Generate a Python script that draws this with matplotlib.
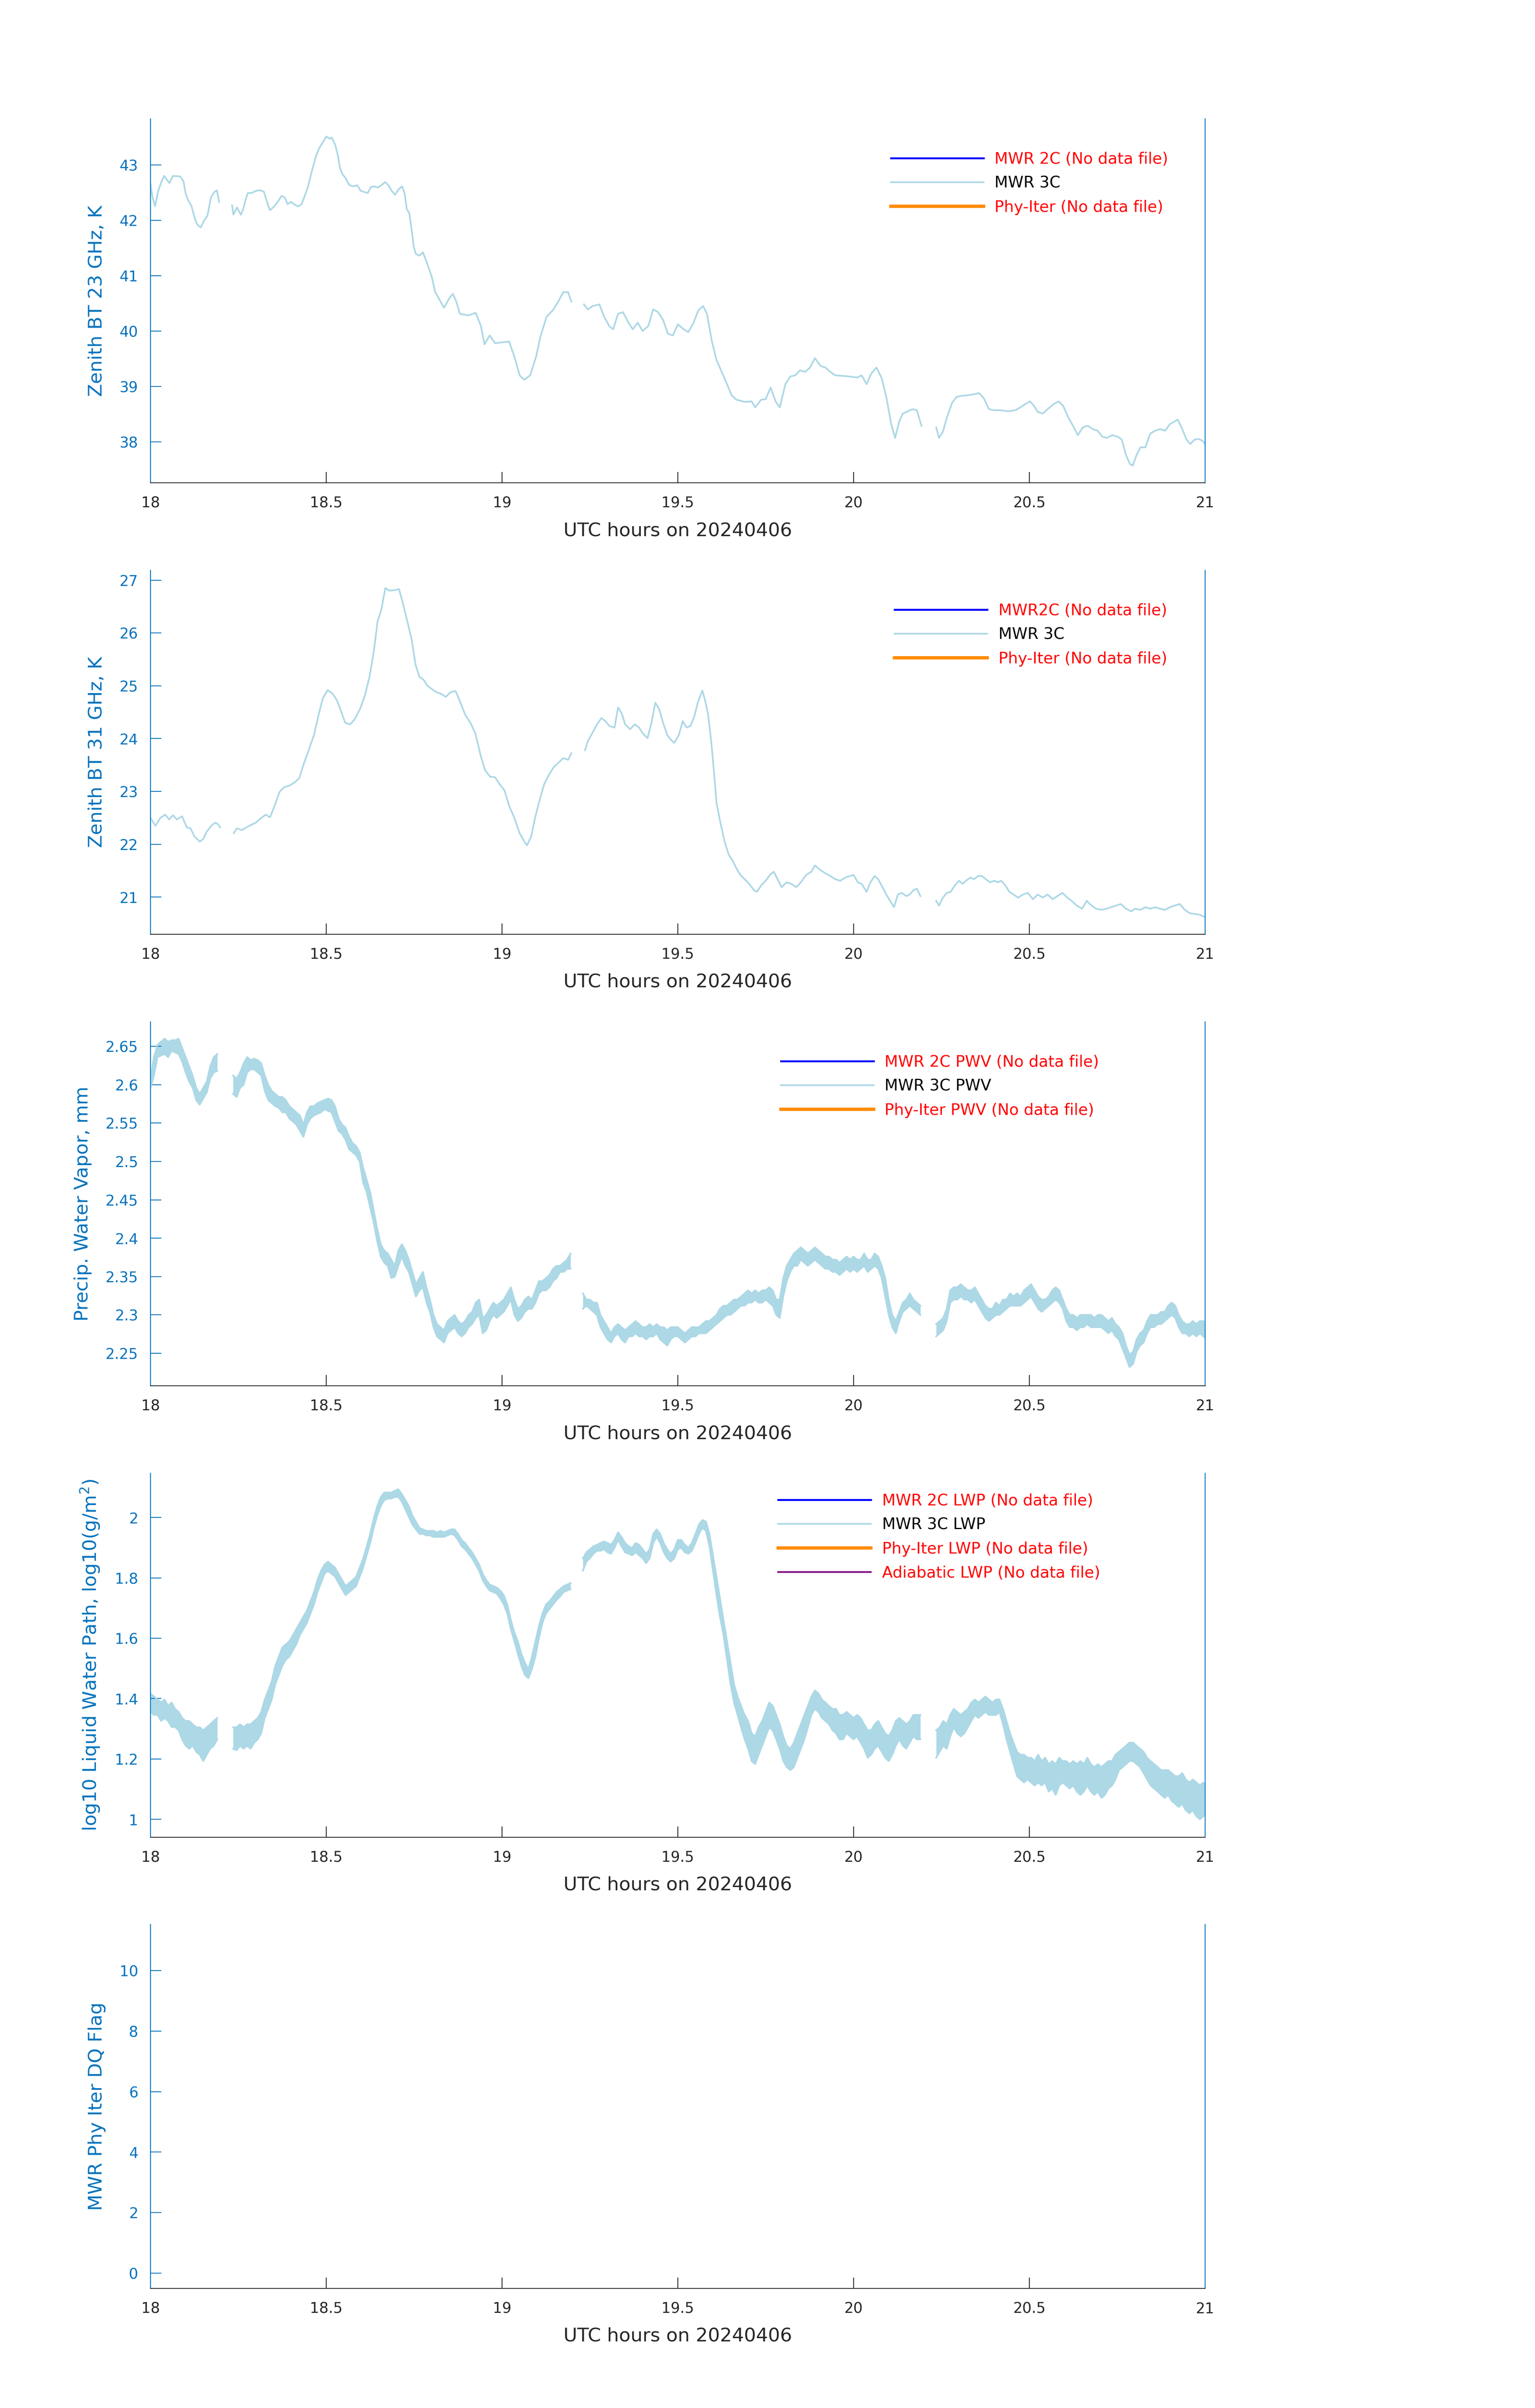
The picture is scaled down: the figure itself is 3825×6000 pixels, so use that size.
import numpy as np
import matplotlib
matplotlib.use('Agg')
import matplotlib.pyplot as plt

# ---------------- data ----------------
XTICKS = [18, 18.5, 19, 19.5, 20, 20.5, 21]
XTICKLABELS = ['18', '18.5', '19', '19.5', '20', '20.5', '21']
XLABEL = 'UTC hours on 20240406'

# Zenith BT 23 GHz, MWR 3C  (hour, K) ; None marks a data gap
bt23_points = [
    (18.000, 42.66), (18.005, 42.43), (18.013, 42.25), (18.022, 42.53), (18.031, 42.69), (18.039, 42.80),
    (18.048, 42.72), (18.054, 42.67), (18.064, 42.80), (18.084, 42.79), (18.094, 42.70), (18.100, 42.48),
    (18.107, 42.36), (18.117, 42.25), (18.126, 42.03), (18.133, 41.92), (18.143, 41.87), (18.153, 42.00),
    (18.162, 42.08), (18.172, 42.41), (18.182, 42.51), (18.189, 42.54), (18.195, 42.33), (18.214, None),
    (18.232, 42.27), (18.236, 42.10), (18.246, 42.23), (18.257, 42.10), (18.264, 42.20), (18.270, 42.36),
    (18.277, 42.49), (18.287, 42.49), (18.300, 42.53), (18.313, 42.54), (18.323, 42.51), (18.329, 42.38),
    (18.336, 42.24), (18.340, 42.18), (18.349, 42.23), (18.356, 42.28), (18.365, 42.36), (18.373, 42.44),
    (18.382, 42.41), (18.390, 42.29), (18.400, 42.33), (18.410, 42.28), (18.420, 42.25), (18.430, 42.29),
    (18.437, 42.41), (18.447, 42.58), (18.454, 42.76), (18.460, 42.91), (18.470, 43.14), (18.480, 43.30),
    (18.490, 43.40), (18.500, 43.51), (18.510, 43.47), (18.516, 43.49), (18.526, 43.35), (18.533, 43.17),
    (18.539, 42.94), (18.546, 42.83), (18.555, 42.76), (18.565, 42.64), (18.575, 42.61), (18.588, 42.63),
    (18.598, 42.53), (18.608, 42.51), (18.618, 42.49), (18.627, 42.60), (18.637, 42.61), (18.647, 42.59),
    (18.657, 42.63), (18.667, 42.69), (18.677, 42.63), (18.686, 42.53), (18.696, 42.46), (18.706, 42.56),
    (18.716, 42.61), (18.723, 42.48), (18.729, 42.20), (18.736, 42.13), (18.742, 41.87), (18.749, 41.52),
    (18.755, 41.39), (18.765, 41.36), (18.775, 41.42), (18.785, 41.25), (18.800, 40.98), (18.810, 40.70),
    (18.820, 40.59), (18.835, 40.42), (18.850, 40.59), (18.860, 40.67), (18.870, 40.53), (18.880, 40.31),
    (18.905, 40.28), (18.925, 40.33), (18.940, 40.09), (18.950, 39.76), (18.965, 39.92), (18.980, 39.78),
    (19.007, 39.80), (19.020, 39.81), (19.035, 39.54), (19.050, 39.20), (19.063, 39.12), (19.080, 39.20),
    (19.097, 39.54), (19.110, 39.92), (19.127, 40.26), (19.144, 40.37), (19.160, 40.53), (19.174, 40.70),
    (19.188, 40.70), (19.197, 40.53), (19.215, None),
    (19.233, 40.48), (19.244, 40.39), (19.258, 40.45), (19.277, 40.48), (19.290, 40.26), (19.305, 40.09),
    (19.316, 40.03), (19.330, 40.31), (19.344, 40.34), (19.358, 40.17), (19.372, 40.03), (19.386, 40.15),
    (19.400, 40.00), (19.416, 40.09), (19.430, 40.39), (19.444, 40.34), (19.458, 40.20), (19.472, 39.95),
    (19.486, 39.92), (19.500, 40.12), (19.517, 40.03), (19.530, 39.98), (19.545, 40.15), (19.558, 40.37),
    (19.572, 40.45), (19.583, 40.31), (19.597, 39.81), (19.610, 39.48), (19.625, 39.26), (19.640, 39.04),
    (19.653, 38.84), (19.667, 38.76), (19.690, 38.72), (19.710, 38.73), (19.720, 38.62), (19.737, 38.76),
    (19.750, 38.77), (19.764, 38.98), (19.778, 38.73), (19.790, 38.62), (19.806, 39.04), (19.820, 39.18),
    (19.834, 39.20), (19.848, 39.29), (19.862, 39.26), (19.876, 39.34), (19.890, 39.51), (19.906, 39.37),
    (19.920, 39.34), (19.934, 39.26), (19.948, 39.20), (19.968, 39.19), (19.987, 39.18), (20.010, 39.16),
    (20.023, 39.20), (20.037, 39.04), (20.050, 39.23), (20.065, 39.34), (20.080, 39.15), (20.093, 38.81),
    (20.107, 38.32), (20.118, 38.07), (20.130, 38.37), (20.140, 38.51), (20.154, 38.55), (20.168, 38.59),
    (20.180, 38.57), (20.193, 38.29), (20.214, None),
    (20.235, 38.26), (20.243, 38.07), (20.254, 38.18), (20.265, 38.43), (20.280, 38.70), (20.293, 38.81),
    (20.307, 38.83), (20.324, 38.84), (20.343, 38.86), (20.357, 38.88), (20.370, 38.79), (20.385, 38.59),
    (20.400, 38.57), (20.418, 38.57), (20.440, 38.55), (20.460, 38.57), (20.474, 38.62), (20.488, 38.68),
    (20.502, 38.73), (20.513, 38.65), (20.524, 38.54), (20.538, 38.51), (20.552, 38.59), (20.569, 38.68),
    (20.583, 38.73), (20.596, 38.65), (20.610, 38.45), (20.624, 38.29), (20.638, 38.12), (20.652, 38.26),
    (20.666, 38.29), (20.680, 38.23), (20.694, 38.20), (20.708, 38.09), (20.720, 38.07), (20.736, 38.12),
    (20.752, 38.09), (20.763, 38.04), (20.775, 37.76), (20.786, 37.60), (20.794, 37.57), (20.805, 37.76),
    (20.816, 37.90), (20.830, 37.90), (20.844, 38.15), (20.858, 38.20), (20.872, 38.23), (20.886, 38.20),
    (20.900, 38.32), (20.914, 38.37), (20.922, 38.40), (20.933, 38.26), (20.947, 38.04), (20.958, 37.96),
    (20.970, 38.04), (20.983, 38.05), (20.994, 38.01), (21.003, 37.92),
]

# Zenith BT 31 GHz, MWR 3C  (hour, K)
bt31_points = [
    (18.000, 22.50), (18.014, 22.35), (18.028, 22.50), (18.042, 22.56), (18.053, 22.47), (18.064, 22.55),
    (18.075, 22.47), (18.090, 22.53), (18.103, 22.32), (18.114, 22.30), (18.125, 22.15), (18.140, 22.05),
    (18.150, 22.10), (18.160, 22.24), (18.173, 22.35), (18.184, 22.41), (18.192, 22.38), (18.198, 22.32),
    (18.217, None),
    (18.237, 22.21), (18.245, 22.30), (18.260, 22.27), (18.273, 22.32), (18.287, 22.37), (18.300, 22.41),
    (18.315, 22.50), (18.328, 22.56), (18.340, 22.51), (18.353, 22.73), (18.367, 22.99), (18.380, 23.08),
    (18.395, 23.11), (18.410, 23.17), (18.423, 23.25), (18.437, 23.54), (18.450, 23.78), (18.465, 24.07),
    (18.480, 24.50), (18.490, 24.76), (18.504, 24.92), (18.518, 24.85), (18.530, 24.73), (18.543, 24.50),
    (18.554, 24.30), (18.568, 24.27), (18.580, 24.36), (18.596, 24.56), (18.610, 24.82), (18.623, 25.17),
    (18.635, 25.64), (18.646, 26.22), (18.657, 26.45), (18.668, 26.85), (18.680, 26.80), (18.693, 26.81),
    (18.707, 26.83), (18.718, 26.56), (18.730, 26.24), (18.743, 25.87), (18.754, 25.40), (18.765, 25.17),
    (18.777, 25.11), (18.788, 25.00), (18.800, 24.94), (18.813, 24.88), (18.826, 24.85), (18.840, 24.79),
    (18.854, 24.88), (18.868, 24.90), (18.880, 24.71), (18.896, 24.44), (18.910, 24.30), (18.924, 24.10),
    (18.940, 23.66), (18.952, 23.40), (18.966, 23.28), (18.980, 23.27), (18.993, 23.14), (19.007, 23.02),
    (19.020, 22.73), (19.035, 22.50), (19.050, 22.21), (19.063, 22.06), (19.071, 21.98), (19.083, 22.15),
    (19.094, 22.50), (19.105, 22.79), (19.120, 23.14), (19.133, 23.31), (19.147, 23.46), (19.160, 23.54),
    (19.174, 23.63), (19.188, 23.60), (19.197, 23.72), (19.216, None),
    (19.236, 23.78), (19.244, 23.95), (19.258, 24.12), (19.270, 24.27), (19.283, 24.39), (19.294, 24.33),
    (19.305, 24.24), (19.320, 24.21), (19.330, 24.59), (19.341, 24.47), (19.350, 24.27), (19.364, 24.18),
    (19.378, 24.27), (19.390, 24.21), (19.400, 24.10), (19.414, 24.01), (19.425, 24.30), (19.436, 24.68),
    (19.447, 24.56), (19.458, 24.30), (19.470, 24.07), (19.480, 23.98), (19.490, 23.92), (19.503, 24.07),
    (19.514, 24.33), (19.525, 24.21), (19.536, 24.24), (19.547, 24.42), (19.558, 24.71), (19.570, 24.91),
    (19.578, 24.71), (19.586, 24.47), (19.595, 23.95), (19.603, 23.37), (19.610, 22.79), (19.622, 22.38),
    (19.634, 22.03), (19.645, 21.80), (19.656, 21.69), (19.667, 21.54), (19.678, 21.42), (19.690, 21.34),
    (19.703, 21.25), (19.717, 21.13), (19.725, 21.10), (19.737, 21.22), (19.750, 21.31), (19.762, 21.42),
    (19.773, 21.48), (19.784, 21.34), (19.795, 21.19), (19.810, 21.28), (19.823, 21.25), (19.837, 21.19),
    (19.850, 21.28), (19.865, 21.42), (19.880, 21.48), (19.890, 21.60), (19.906, 21.51), (19.920, 21.45),
    (19.934, 21.40), (19.948, 21.34), (19.962, 21.31), (19.976, 21.37), (19.990, 21.40), (20.000, 21.42),
    (20.012, 21.28), (20.023, 21.25), (20.037, 21.10), (20.048, 21.28), (20.060, 21.40), (20.070, 21.34),
    (20.082, 21.19), (20.093, 21.05), (20.104, 20.93), (20.115, 20.81), (20.126, 21.05), (20.137, 21.08),
    (20.150, 21.02), (20.160, 21.05), (20.170, 21.13), (20.180, 21.16), (20.190, 21.02), (20.212, None),
    (20.235, 20.93), (20.243, 20.84), (20.254, 20.99), (20.265, 21.08), (20.276, 21.10), (20.288, 21.22),
    (20.300, 21.31), (20.310, 21.25), (20.320, 21.31), (20.332, 21.37), (20.343, 21.34), (20.354, 21.40),
    (20.365, 21.40), (20.376, 21.34), (20.388, 21.28), (20.400, 21.31), (20.410, 21.28), (20.420, 21.31),
    (20.432, 21.22), (20.443, 21.10), (20.455, 21.05), (20.468, 20.99), (20.482, 21.05), (20.496, 21.08),
    (20.510, 20.96), (20.524, 21.05), (20.538, 20.99), (20.552, 21.05), (20.566, 20.96), (20.580, 21.02),
    (20.594, 21.08), (20.608, 20.99), (20.620, 20.93), (20.635, 20.84), (20.650, 20.78), (20.663, 20.93),
    (20.677, 20.84), (20.690, 20.78), (20.705, 20.76), (20.720, 20.78), (20.733, 20.81), (20.747, 20.84),
    (20.760, 20.87), (20.775, 20.78), (20.790, 20.73), (20.800, 20.78), (20.816, 20.76), (20.830, 20.81),
    (20.844, 20.78), (20.858, 20.81), (20.872, 20.78), (20.886, 20.76), (20.900, 20.81), (20.914, 20.84),
    (20.928, 20.87), (20.942, 20.76), (20.955, 20.70), (20.970, 20.68), (20.983, 20.67), (20.997, 20.63),
    (21.005, 20.64),
]

# Noisy series (PWV, LWP): sampled every SAMPLE_STEP hours in segments;
# for each sample the lower and upper extent of the noisy trace was read.
SAMPLE_STEP = 0.01
seg_start = [18.000, 18.235, 19.230, 20.235]

pwv_lo = [
    [2.596, 2.612, 2.636, 2.638, 2.640, 2.636, 2.644, 2.642, 2.640, 2.630,
     2.616, 2.604, 2.596, 2.580, 2.574, 2.582, 2.590, 2.608, 2.616, 2.618],
    [2.588, 2.584, 2.596, 2.600, 2.616, 2.620, 2.620, 2.616, 2.612, 2.592,
     2.580, 2.576, 2.572, 2.570, 2.564, 2.564, 2.556, 2.552, 2.548, 2.540,
     2.532, 2.548, 2.556, 2.560, 2.562, 2.564, 2.568, 2.566, 2.564, 2.552,
     2.540, 2.536, 2.528, 2.516, 2.512, 2.508, 2.500, 2.472, 2.460, 2.440,
     2.420, 2.396, 2.376, 2.368, 2.364, 2.348, 2.350, 2.364, 2.376, 2.364,
     2.356, 2.340, 2.324, 2.332, 2.336, 2.316, 2.304, 2.284, 2.272, 2.268,
     2.264, 2.276, 2.280, 2.284, 2.276, 2.272, 2.276, 2.284, 2.288, 2.296,
     2.300, 2.276, 2.280, 2.292, 2.300, 2.296, 2.300, 2.304, 2.312, 2.320,
     2.300, 2.292, 2.296, 2.304, 2.308, 2.308, 2.316, 2.328, 2.332, 2.332,
     2.336, 2.344, 2.348, 2.356, 2.356, 2.360, 2.360],
    [2.308, 2.312, 2.308, 2.304, 2.300, 2.284, 2.276, 2.268, 2.264, 2.272,
     2.276, 2.268, 2.264, 2.272, 2.272, 2.276, 2.272, 2.272, 2.268, 2.272,
     2.272, 2.276, 2.268, 2.264, 2.260, 2.268, 2.272, 2.272, 2.268, 2.264,
     2.268, 2.272, 2.272, 2.276, 2.276, 2.276, 2.280, 2.284, 2.288, 2.292,
     2.296, 2.300, 2.300, 2.304, 2.308, 2.312, 2.312, 2.316, 2.316, 2.320,
     2.316, 2.316, 2.320, 2.316, 2.312, 2.300, 2.296, 2.324, 2.344, 2.356,
     2.364, 2.364, 2.372, 2.368, 2.364, 2.368, 2.372, 2.368, 2.364, 2.360,
     2.360, 2.356, 2.356, 2.352, 2.356, 2.360, 2.356, 2.360, 2.356, 2.360,
     2.364, 2.356, 2.360, 2.364, 2.360, 2.348, 2.324, 2.300, 2.284, 2.276,
     2.292, 2.304, 2.308, 2.312, 2.308, 2.304, 2.300],
    [2.272, 2.276, 2.280, 2.292, 2.316, 2.320, 2.320, 2.324, 2.320, 2.320,
     2.316, 2.320, 2.312, 2.304, 2.296, 2.292, 2.296, 2.300, 2.300, 2.304,
     2.308, 2.312, 2.312, 2.312, 2.312, 2.316, 2.320, 2.324, 2.316, 2.308,
     2.304, 2.308, 2.312, 2.316, 2.320, 2.316, 2.308, 2.292, 2.284, 2.284,
     2.280, 2.284, 2.284, 2.288, 2.284, 2.284, 2.284, 2.284, 2.280, 2.276,
     2.280, 2.272, 2.268, 2.256, 2.244, 2.232, 2.236, 2.252, 2.260, 2.264,
     2.276, 2.284, 2.284, 2.288, 2.288, 2.292, 2.296, 2.300, 2.296, 2.284,
     2.276, 2.276, 2.272, 2.276, 2.272, 2.276, 2.272, 2.268],
]
pwv_hi = [
    [2.610, 2.636, 2.652, 2.656, 2.660, 2.656, 2.658, 2.658, 2.660, 2.648,
     2.636, 2.624, 2.612, 2.596, 2.588, 2.596, 2.604, 2.624, 2.636, 2.640],
    [2.612, 2.608, 2.616, 2.628, 2.636, 2.632, 2.634, 2.632, 2.628, 2.612,
     2.600, 2.592, 2.588, 2.584, 2.584, 2.580, 2.572, 2.568, 2.564, 2.560,
     2.548, 2.564, 2.572, 2.572, 2.576, 2.578, 2.580, 2.582, 2.580, 2.572,
     2.556, 2.548, 2.544, 2.532, 2.524, 2.520, 2.512, 2.492, 2.476, 2.460,
     2.436, 2.412, 2.392, 2.384, 2.380, 2.372, 2.364, 2.384, 2.392, 2.384,
     2.372, 2.356, 2.340, 2.348, 2.356, 2.336, 2.320, 2.300, 2.288, 2.284,
     2.280, 2.292, 2.296, 2.300, 2.292, 2.288, 2.292, 2.300, 2.304, 2.316,
     2.320, 2.296, 2.300, 2.308, 2.316, 2.312, 2.316, 2.320, 2.328, 2.336,
     2.320, 2.308, 2.312, 2.320, 2.324, 2.320, 2.332, 2.344, 2.344, 2.348,
     2.352, 2.360, 2.364, 2.364, 2.368, 2.372, 2.380],
    [2.328, 2.320, 2.320, 2.316, 2.316, 2.300, 2.292, 2.284, 2.276, 2.284,
     2.288, 2.284, 2.280, 2.284, 2.288, 2.292, 2.288, 2.284, 2.284, 2.288,
     2.284, 2.288, 2.284, 2.284, 2.280, 2.284, 2.284, 2.284, 2.280, 2.276,
     2.280, 2.284, 2.284, 2.284, 2.288, 2.292, 2.292, 2.296, 2.300, 2.308,
     2.312, 2.312, 2.316, 2.320, 2.320, 2.324, 2.328, 2.332, 2.328, 2.332,
     2.328, 2.332, 2.332, 2.336, 2.332, 2.320, 2.320, 2.348, 2.364, 2.372,
     2.380, 2.384, 2.388, 2.384, 2.380, 2.384, 2.388, 2.384, 2.380, 2.376,
     2.376, 2.372, 2.372, 2.368, 2.372, 2.376, 2.372, 2.376, 2.372, 2.372,
     2.380, 2.372, 2.372, 2.380, 2.376, 2.364, 2.348, 2.320, 2.300, 2.292,
     2.304, 2.316, 2.320, 2.328, 2.320, 2.316, 2.312],
    [2.288, 2.292, 2.296, 2.308, 2.332, 2.336, 2.336, 2.340, 2.336, 2.332,
     2.332, 2.336, 2.328, 2.320, 2.312, 2.308, 2.308, 2.316, 2.312, 2.320,
     2.320, 2.328, 2.324, 2.328, 2.324, 2.332, 2.336, 2.340, 2.332, 2.324,
     2.320, 2.320, 2.324, 2.332, 2.336, 2.332, 2.320, 2.308, 2.300, 2.300,
     2.296, 2.300, 2.300, 2.300, 2.300, 2.296, 2.300, 2.300, 2.296, 2.292,
     2.296, 2.288, 2.284, 2.276, 2.260, 2.248, 2.252, 2.268, 2.276, 2.280,
     2.292, 2.300, 2.300, 2.300, 2.304, 2.304, 2.312, 2.316, 2.312, 2.300,
     2.292, 2.288, 2.288, 2.292, 2.288, 2.292, 2.292, 2.288],
]

lwp_lo = [
    [1.356, 1.346, 1.346, 1.326, 1.336, 1.326, 1.306, 1.306, 1.295, 1.265,
     1.244, 1.234, 1.244, 1.224, 1.214, 1.193, 1.214, 1.234, 1.244, 1.265],
    [1.234, 1.229, 1.244, 1.234, 1.244, 1.234, 1.254, 1.265, 1.285, 1.336,
     1.366, 1.397, 1.448, 1.478, 1.509, 1.529, 1.539, 1.560, 1.580, 1.611,
     1.631, 1.651, 1.682, 1.712, 1.753, 1.783, 1.814, 1.823, 1.814, 1.804,
     1.783, 1.763, 1.743, 1.753, 1.763, 1.773, 1.804, 1.834, 1.875, 1.916,
     1.966, 2.007, 2.038, 2.058, 2.063, 2.063, 2.068, 2.068, 2.053, 2.027,
     2.002, 1.977, 1.961, 1.946, 1.946, 1.941, 1.941, 1.936, 1.936, 1.936,
     1.936, 1.941, 1.946, 1.941, 1.926, 1.905, 1.895, 1.880, 1.865, 1.844,
     1.823, 1.793, 1.773, 1.758, 1.753, 1.748, 1.732, 1.712, 1.682, 1.631,
     1.590, 1.549, 1.509, 1.478, 1.468, 1.498, 1.539, 1.600, 1.651, 1.682,
     1.697, 1.712, 1.727, 1.738, 1.753, 1.758, 1.763],
    [1.824, 1.854, 1.865, 1.880, 1.890, 1.890, 1.895, 1.885, 1.880, 1.900,
     1.926, 1.905, 1.885, 1.880, 1.875, 1.885, 1.875, 1.865, 1.849, 1.865,
     1.916, 1.936, 1.916, 1.885, 1.865, 1.854, 1.865, 1.895, 1.900, 1.885,
     1.880, 1.890, 1.916, 1.946, 1.966, 1.956, 1.905, 1.824, 1.743, 1.671,
     1.610, 1.529, 1.448, 1.387, 1.346, 1.305, 1.265, 1.234, 1.193, 1.183,
     1.214, 1.244, 1.275, 1.305, 1.295, 1.265, 1.234, 1.193, 1.173, 1.163,
     1.173, 1.204, 1.234, 1.265, 1.305, 1.346, 1.366, 1.356, 1.336, 1.326,
     1.315, 1.295, 1.285, 1.265, 1.265, 1.285, 1.275, 1.265, 1.275, 1.255,
     1.234, 1.204, 1.214, 1.234, 1.244, 1.224, 1.204, 1.193, 1.214, 1.244,
     1.265, 1.244, 1.234, 1.255, 1.275, 1.265, 1.265],
    [1.204, 1.224, 1.244, 1.234, 1.275, 1.305, 1.285, 1.275, 1.285, 1.305,
     1.326, 1.346, 1.336, 1.346, 1.356, 1.346, 1.346, 1.346, 1.356, 1.315,
     1.265, 1.224, 1.183, 1.143, 1.132, 1.122, 1.132, 1.122, 1.112, 1.122,
     1.112, 1.122, 1.092, 1.102, 1.081, 1.112, 1.122, 1.112, 1.102, 1.112,
     1.092, 1.081, 1.092, 1.112, 1.092, 1.081, 1.092, 1.071, 1.081, 1.102,
     1.112, 1.132, 1.163, 1.173, 1.183, 1.193, 1.193, 1.183, 1.173, 1.153,
     1.132, 1.112, 1.102, 1.092, 1.081, 1.071, 1.081, 1.061, 1.051, 1.041,
     1.051, 1.030, 1.020, 1.030, 1.010, 1.000, 1.010, 1.020],
]
lwp_hi = [
    [1.417, 1.407, 1.397, 1.387, 1.397, 1.376, 1.387, 1.366, 1.356, 1.336,
     1.326, 1.326, 1.315, 1.305, 1.305, 1.295, 1.305, 1.315, 1.326, 1.336],
    [1.305, 1.305, 1.315, 1.305, 1.315, 1.315, 1.326, 1.336, 1.356, 1.397,
     1.427, 1.458, 1.509, 1.539, 1.570, 1.580, 1.590, 1.610, 1.631, 1.651,
     1.672, 1.692, 1.723, 1.753, 1.794, 1.823, 1.844, 1.854, 1.844, 1.834,
     1.814, 1.793, 1.773, 1.783, 1.793, 1.804, 1.834, 1.864, 1.905, 1.946,
     1.997, 2.038, 2.068, 2.083, 2.083, 2.083, 2.089, 2.094, 2.078, 2.058,
     2.038, 2.007, 1.987, 1.966, 1.961, 1.956, 1.956, 1.956, 1.951, 1.956,
     1.951, 1.956, 1.961, 1.961, 1.946, 1.926, 1.916, 1.900, 1.885, 1.865,
     1.844, 1.814, 1.793, 1.778, 1.773, 1.768, 1.758, 1.743, 1.712, 1.661,
     1.620, 1.590, 1.549, 1.519, 1.498, 1.539, 1.590, 1.641, 1.682, 1.712,
     1.723, 1.738, 1.753, 1.763, 1.773, 1.778, 1.783],
    [1.865, 1.885, 1.895, 1.905, 1.910, 1.916, 1.921, 1.916, 1.910, 1.926,
     1.951, 1.936, 1.916, 1.905, 1.900, 1.916, 1.910, 1.895, 1.880, 1.895,
     1.946, 1.961, 1.946, 1.916, 1.895, 1.880, 1.895, 1.926, 1.926, 1.910,
     1.900, 1.916, 1.946, 1.977, 1.992, 1.987, 1.946, 1.875, 1.804, 1.732,
     1.661, 1.590, 1.519, 1.448, 1.407, 1.376, 1.346, 1.326, 1.285, 1.275,
     1.305, 1.326, 1.356, 1.387, 1.376, 1.346, 1.315, 1.275, 1.244, 1.234,
     1.254, 1.285, 1.315, 1.346, 1.376, 1.407, 1.427, 1.417, 1.397, 1.387,
     1.376, 1.366, 1.366, 1.346, 1.346, 1.356, 1.346, 1.336, 1.346, 1.336,
     1.315, 1.295, 1.295, 1.315, 1.326, 1.305, 1.285, 1.275, 1.295, 1.326,
     1.336, 1.326, 1.315, 1.326, 1.346, 1.346, 1.346],
    [1.295, 1.305, 1.326, 1.315, 1.346, 1.366, 1.356, 1.346, 1.356, 1.366,
     1.387, 1.397, 1.387, 1.397, 1.407, 1.397, 1.387, 1.397, 1.397, 1.366,
     1.326, 1.285, 1.254, 1.224, 1.214, 1.214, 1.204, 1.204, 1.193, 1.214,
     1.193, 1.204, 1.183, 1.193, 1.183, 1.204, 1.193, 1.193, 1.183, 1.193,
     1.183, 1.193, 1.183, 1.204, 1.183, 1.173, 1.183, 1.173, 1.183, 1.193,
     1.193, 1.214, 1.224, 1.234, 1.244, 1.254, 1.254, 1.244, 1.234, 1.224,
     1.204, 1.193, 1.183, 1.173, 1.163, 1.163, 1.163, 1.153, 1.143, 1.143,
     1.153, 1.132, 1.122, 1.132, 1.122, 1.112, 1.122, 1.102],
]

# axis settings
ylabels = ['Zenith BT 23 GHz, K', 'Zenith BT 31 GHz, K', 'Precip. Water Vapor, mm',
           r'log10 Liquid Water Path, log10(g/m$^2$)', 'MWR Phy Iter DQ Flag']
ylims = [(37.26, 43.83), (20.30, 27.19), (2.2076, 2.682), (0.941, 2.1475), (-0.51, 11.53)]
yticks = [[38, 39, 40, 41, 42, 43],
          [21, 22, 23, 24, 25, 26, 27],
          [2.25, 2.30, 2.35, 2.40, 2.45, 2.50, 2.55, 2.60, 2.65],
          [1.0, 1.2, 1.4, 1.6, 1.8, 2.0],
          [0, 2, 4, 6, 8, 10]]
yticklabels = [['38', '39', '40', '41', '42', '43'],
               ['21', '22', '23', '24', '25', '26', '27'],
               ['2.25', '2.3', '2.35', '2.4', '2.45', '2.5', '2.55', '2.6', '2.65'],
               ['1', '1.2', '1.4', '1.6', '1.8', '2'],
               ['0', '2', '4', '6', '8', '10']]

legend_labels = [
    ['MWR 2C (No data file)', 'MWR 3C', 'Phy-Iter (No data file)'],
    ['MWR2C (No data file)', 'MWR 3C', 'Phy-Iter (No data file)'],
    ['MWR 2C PWV (No data file)', 'MWR 3C PWV', 'Phy-Iter PWV (No data file)'],
    ['MWR 2C LWP (No data file)', 'MWR 3C LWP', 'Phy-Iter LWP (No data file)', 'Adiabatic LWP (No data file)'],
]
legend_text_colors = [
    ['red', 'black', 'red'],
    ['red', 'black', 'red'],
    ['red', 'black', 'red'],
    ['red', 'black', 'red', 'red'],
]

# ---------------- styling ----------------
AX_BLUE = '#0072BD'
AX_DARK = '#262626'
C3 = '#ADD8E6'       # light blue (MWR 3C)
C2 = '#0000FF'       # MWR 2C
CPHY = '#FF8C00'     # Phy-Iter
CADI = '#800080'     # Adiabatic

TICK_FS = 8.8
LABEL_FS = 11.3
LEG_FS = 9.4

W, H = 3825, 6000
fig = plt.figure(figsize=(W / 300, H / 300), dpi=300)

ax_left = 375 / W
ax_w = (3003 - 375) / W
ax_h = 907 / H
ax_tops_px = [296, 1420.5, 2546, 3670.5, 4795]

legend_pos_px = [(2220, 378), (2229, 1503), (1946, 2628), (1939, 3721)]

axes = []
for i in range(5):
    bottom = 1 - (ax_tops_px[i] + 907) / H
    ax = fig.add_axes([ax_left, bottom, ax_w, ax_h])
    axes.append(ax)
    ax.set_xlim(18, 21)
    ax.set_ylim(*ylims[i])
    ax.set_xticks(XTICKS)
    ax.set_xticklabels(XTICKLABELS)
    ax.set_yticks(yticks[i])
    ax.set_yticklabels(yticklabels[i])
    ax.tick_params(axis='x', direction='in', length=6.5, width=0.5, colors=AX_DARK,
                   labelsize=TICK_FS, pad=7.8)
    ax.tick_params(axis='y', direction='in', length=6.5, width=0.5, colors=AX_BLUE,
                   labelsize=TICK_FS, pad=7.4)
    ax.spines['top'].set_visible(False)
    ax.spines['left'].set_color(AX_BLUE)
    ax.spines['right'].set_color(AX_BLUE)
    ax.spines['bottom'].set_color(AX_DARK)
    for s in ('left', 'right', 'bottom'):
        ax.spines[s].set_linewidth(0.5)
    ax.set_xlabel(XLABEL, fontsize=LABEL_FS, color=AX_DARK, labelpad=6.6)
    ax.set_ylabel(ylabels[i], fontsize=LABEL_FS, color=AX_BLUE, labelpad=8)


def split_points(points):
    t = np.array([p[0] for p in points], dtype=float)
    v = np.array([np.nan if p[1] is None else p[1] for p in points], dtype=float)
    return t, v


def plot_noisy(ax, lo_segs, hi_segs):
    line = None
    for start, lo, hi in zip(seg_start, lo_segs, hi_segs):
        t = start + SAMPLE_STEP * np.arange(len(lo))
        ax.fill_between(t, lo, hi, color=C3, linewidth=0)
        ax.plot(t, lo, color=C3, lw=1.0)
        line, = ax.plot(t, hi, color=C3, lw=1.0)
    return line


handles_all = []
# panel 1
ax = axes[0]
h2, = ax.plot([], [], color=C2, lw=1.15)
t, v = split_points(bt23_points)
h3, = ax.plot(t, v, color=C3, lw=1.0)
hp, = ax.plot([], [], color=CPHY, lw=2.0)
handles_all.append([h2, h3, hp])
# panel 2
ax = axes[1]
h2, = ax.plot([], [], color=C2, lw=1.15)
t, v = split_points(bt31_points)
h3, = ax.plot(t, v, color=C3, lw=1.0)
hp, = ax.plot([], [], color=CPHY, lw=2.0)
handles_all.append([h2, h3, hp])
# panel 3
ax = axes[2]
h2, = ax.plot([], [], color=C2, lw=1.15)
h3 = plot_noisy(ax, pwv_lo, pwv_hi)
hp, = ax.plot([], [], color=CPHY, lw=2.0)
handles_all.append([h2, h3, hp])
# panel 4
ax = axes[3]
h2, = ax.plot([], [], color=C2, lw=1.15)
h3 = plot_noisy(ax, lwp_lo, lwp_hi)
hp, = ax.plot([], [], color=CPHY, lw=2.0)
ha, = ax.plot([], [], color=CADI, lw=1.0)
handles_all.append([h2, h3, hp, ha])

for i in range(4):
    x_px, y_px = legend_pos_px[i]
    leg = axes[i].legend(handles_all[i], legend_labels[i], loc='upper left',
                         bbox_to_anchor=(x_px / W, 1 - y_px / H),
                         bbox_transform=fig.transFigure, frameon=False,
                         fontsize=LEG_FS, handlelength=5.9, handletextpad=0.70,
                         labelspacing=0.56, borderpad=0, borderaxespad=0)
    for txt, col in zip(leg.get_texts(), legend_text_colors[i]):
        txt.set_color(col)

fig.savefig('out.png', dpi=300, facecolor='white')
